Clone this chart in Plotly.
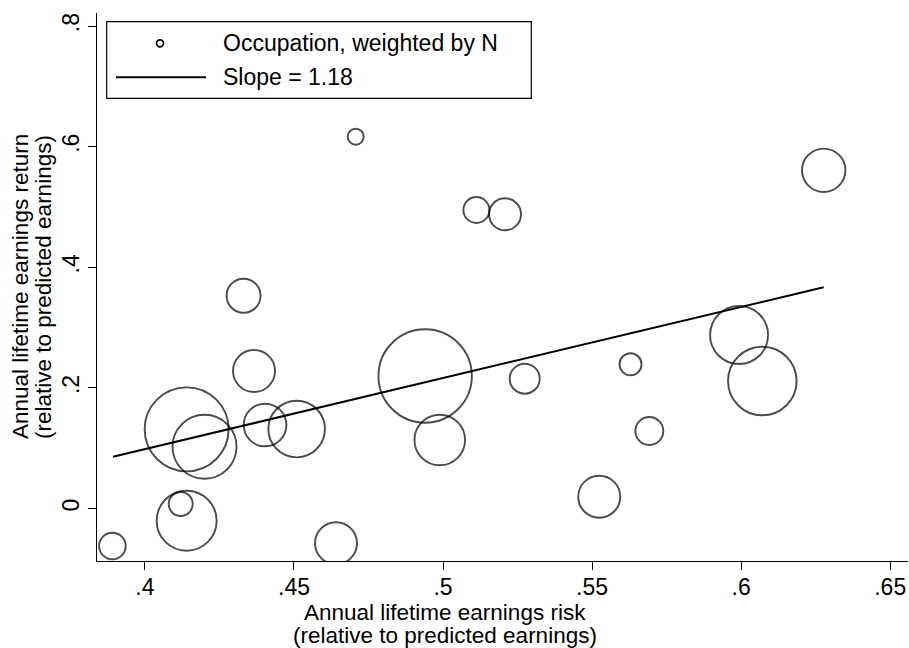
import plotly.graph_objects as go

# ---- data ----
risk = [0.3891, 0.4140, 0.4120, 0.4641, 0.4140, 0.4200, 0.4403, 0.4509, 0.4366, 0.4331,
        0.4707, 0.4940, 0.4989, 0.5274, 0.5112, 0.5208, 0.5524, 0.5629, 0.5692, 0.5993,
        0.6071, 0.6277]
ret = [-0.0622, -0.0202, 0.0075, -0.0577, 0.1313, 0.1025, 0.1385, 0.1318, 0.2280, 0.3529,
       0.6166, 0.2197, 0.1136, 0.2153, 0.4950, 0.4879, 0.0196, 0.2391, 0.1285, 0.2877,
       0.2114, 0.5609]
weight_n = [177, 900, 144, 441, 1764, 1024, 454, 801, 441, 289,
            64, 2181, 640, 225, 169, 256, 441, 121, 196, 841,
            1176, 471]
fit_x = [0.3893, 0.6277]
fit_y = [0.0859, 0.3668]

x_ticks = [0.40, 0.45, 0.50, 0.55, 0.60, 0.65]
x_ticktext = [".4", ".45", ".5", ".55", ".6", ".65"]
y_ticks = [0.0, 0.2, 0.4, 0.6, 0.8]
y_ticktext = ["0", ".2", ".4", ".6", ".8"]

FONT = "Liberation Sans, Arial, Helvetica, sans-serif"
FS = 23
FT = 22.5

W, H = 909, 648
L, R, T, B = 97, 1, 13, 87
PW, PH = W - L - R, H - T - B


def px(xp):
    return (xp - L) / PW


def py(yp):
    return (H - B - yp) / PH


fig = go.Figure()
fig.add_trace(go.Scatter(
    x=risk, y=ret, mode="markers", name="Occupation, weighted by N",
    marker=dict(size=weight_n, sizemode="area", sizeref=0.5,
                color="rgba(0,0,0,0)", line=dict(color="black", width=1.9)),
    showlegend=False,
))
fig.add_trace(go.Scatter(
    x=fit_x, y=fit_y, mode="lines", name="Slope = 1.18",
    line=dict(color="black", width=2), showlegend=False,
))

shapes = [
    dict(type="rect", xref="paper", yref="paper",
         x0=px(106.7), x1=px(531.3), y0=py(98.3), y1=py(21.7),
         line=dict(color="black", width=1.2), fillcolor="white", layer="above"),
    dict(type="circle", xref="paper", yref="paper",
         x0=px(156.5), x1=px(163.5), y0=py(46.8), y1=py(39.8),
         line=dict(color="black", width=1.7), layer="above"),
    dict(type="line", xref="paper", yref="paper",
         x0=px(116), x1=px(206), y0=py(77.3), y1=py(77.3),
         line=dict(color="black", width=2), layer="above"),
]

annotations = [
    dict(text="Occupation, weighted by N", xref="paper", yref="paper",
         x=px(220.7), y=py(43.3), xanchor="left", yanchor="middle", showarrow=False,
         font=dict(family=FONT, size=FS, color="black")),
    dict(text="Slope = 1.18", xref="paper", yref="paper",
         x=px(220.7), y=py(77.3), xanchor="left", yanchor="middle", showarrow=False,
         font=dict(family=FONT, size=FS, color="black")),
    # x title
    dict(text="Annual lifetime earnings risk", xref="paper", yref="paper",
         x=px(445), y=py(612), xanchor="center", yanchor="middle", showarrow=False,
         font=dict(family=FONT, size=FT, color="black")),
    dict(text="(relative to predicted earnings)", xref="paper", yref="paper",
         x=px(445), y=py(635), xanchor="center", yanchor="middle", showarrow=False,
         font=dict(family=FONT, size=FT, color="black")),
    # y title
    dict(text="Annual lifetime earnings return", xref="paper", yref="paper",
         x=px(20), y=py(287), xanchor="center", yanchor="middle", showarrow=False,
         textangle=-90, font=dict(family=FONT, size=FT, color="black")),
    dict(text="(relative to predicted earnings)", xref="paper", yref="paper",
         x=px(43), y=py(287), xanchor="center", yanchor="middle", showarrow=False,
         textangle=-90, font=dict(family=FONT, size=FT, color="black")),
]

fig.update_layout(
    width=W, height=H,
    margin=dict(l=L, r=R, t=T, b=B, pad=0),
    paper_bgcolor="white", plot_bgcolor="white",
    font=dict(family=FONT, size=FS, color="black"),
    shapes=shapes, annotations=annotations,
    showlegend=False,
    xaxis=dict(range=[0.38393, 0.65597], tickvals=x_ticks, ticktext=x_ticktext,
               showline=True, linecolor="black", linewidth=1.2,
               ticks="outside", ticklen=8, tickwidth=1.2, tickcolor="black",
               ticklabelstandoff=-3,
               showgrid=False, zeroline=False,
               tickfont=dict(family=FONT, size=FS, color="black")),
    yaxis=dict(range=[-0.08706, 0.82172], tickvals=y_ticks, ticktext=y_ticktext,
               showline=True, linecolor="black", linewidth=1.2,
               ticks="outside", ticklen=8, tickwidth=1.2, tickcolor="black",
               showgrid=False, zeroline=False, tickangle=-90,
               tickfont=dict(family=FONT, size=FS, color="black")),
)

fig.write_html(
    "out.html",
    config={"displayModeBar": False},
    post_script="document.body.style.margin='0';document.body.style.padding='0';"
                "document.documentElement.style.overflow='hidden';",
)
